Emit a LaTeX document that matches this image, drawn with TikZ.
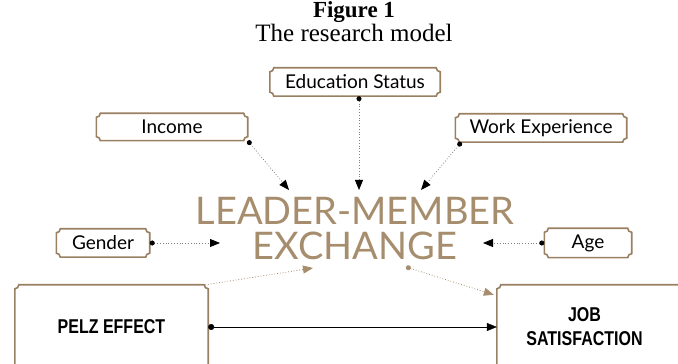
\documentclass[tikz,border=0pt]{standalone}
\usepackage{fontspec}
\setmainfont{Liberation Serif}
\newfontfamily\boxfont{Lato}
\newfontfamily\condfont[FakeStretch=0.8]{Liberation Sans}
\usepackage{tikz}
\usetikzlibrary{arrows.meta}

\definecolor{frameBrown}{HTML}{9A8062}
\definecolor{lmxBrown}{HTML}{A68D6E}

\tikzset{
  factor/.style={font=\boxfont\fontsize{19}{21}\selectfont, inner sep=0pt},
  outcome/.style={font=\condfont\bfseries\fontsize{20}{24}\selectfont, inner sep=0pt, align=center},
  frame/.style={frameBrown, line width=1.6pt},
  link/.style={gray, dotted, thick, {Circle[length=5pt,color=black]}-{Triangle[length=10pt,width=8pt,color=black]}},
  brownlink/.style={lmxBrown, dotted, thick, -{Triangle[length=10pt,width=8pt]}},
}

% concave notched frame round a node
\newcommand\notchframe[1]{%
  \draw[frame] ([xshift=4pt]#1.north west) -- ([xshift=-4pt]#1.north east)
    arc[start angle=180,end angle=270,radius=4pt]
    -- ([yshift=4pt]#1.south east) arc[start angle=90,end angle=180,radius=4pt]
    -- ([xshift=4pt]#1.south west) arc[start angle=0,end angle=90,radius=4pt]
    -- ([yshift=-4pt]#1.north west) arc[start angle=270,end angle=360,radius=4pt] -- cycle;}

\begin{document}
\begin{tikzpicture}[x=1pt,y=1pt]
  \useasboundingbox (0,0) rectangle (678,364);

  \node[font=\bfseries\fontsize{23}{25}\selectfont, anchor=base, inner sep=0pt] (title) at (354,346) {Figure 1};
  \node[font=\fontsize{25}{27}\selectfont, anchor=base, inner sep=0pt] (subtitle) at (354,322) {The research model};

  % factors
  \node[factor, minimum width=170pt, minimum height=28pt] (edu) at (355,282) {Education Status};
  \node[factor, minimum width=151pt, minimum height=27pt] (income) at (172,237) {Income};
  \node[factor, minimum width=171pt, minimum height=28pt] (work) at (541,236) {Work Experience};
  \node[factor, minimum width=93pt, minimum height=28pt] (gender) at (103,121) {Gender};
  \node[factor, minimum width=87pt, minimum height=29pt] (age) at (588,121) {Age};
  \foreach \n in {edu,income,work,gender,age} {\notchframe{\n}}

  % mediator
  \node[font=\boxfont\fontsize{38}{35}\selectfont, text=lmxBrown, align=center] (lmx) at (355,135)
    {LEADER-MEMBER\\EXCHANGE};

  % outcomes
  \node[outcome, minimum width=193pt, minimum height=84pt] (pelz) at (111.5,37) {PELZ EFFECT};
  \node[outcome, minimum width=193pt, minimum height=84pt] (job) at (593.5,37) {\hspace*{-18pt}JOB\\\hspace*{-18pt}SATISFACTION};
  \notchframe{pelz}
  \notchframe{job}

  % arrow ends on the mediator
  \coordinate (lmxIncome) at (289,174);
  \coordinate (lmxEdu) at (359,174);
  \coordinate (lmxWork) at (421,174);
  \coordinate (lmxGender) at (220,121);
  \coordinate (lmxAge) at (483,121);
  \coordinate (lmxIn) at (313,96);
  \coordinate (lmxOut) at (406,97);

  \draw[link] (income.south east) -- (lmxIncome);
  \draw[link] ([xshift=4pt]edu.south) -- (lmxEdu);
  \draw[link] ([xshift=6pt]work.south west) -- (lmxWork);
  \draw[link] (gender.east) -- (lmxGender);
  \draw[link] (age.west) -- (lmxAge);

  \draw[brownlink] ([xshift=-3pt]pelz.north east) -- (lmxIn);
  \draw[brownlink, {Circle[length=5pt]}-{Triangle[length=10pt,width=8pt]}] (lmxOut) -- ([xshift=-3pt,yshift=-10pt]job.north west);
  \draw[black, {Circle[length=6pt]}-{Triangle[length=10pt,width=8pt]}] (pelz.east) -- (job.west);
\end{tikzpicture}
\end{document}
